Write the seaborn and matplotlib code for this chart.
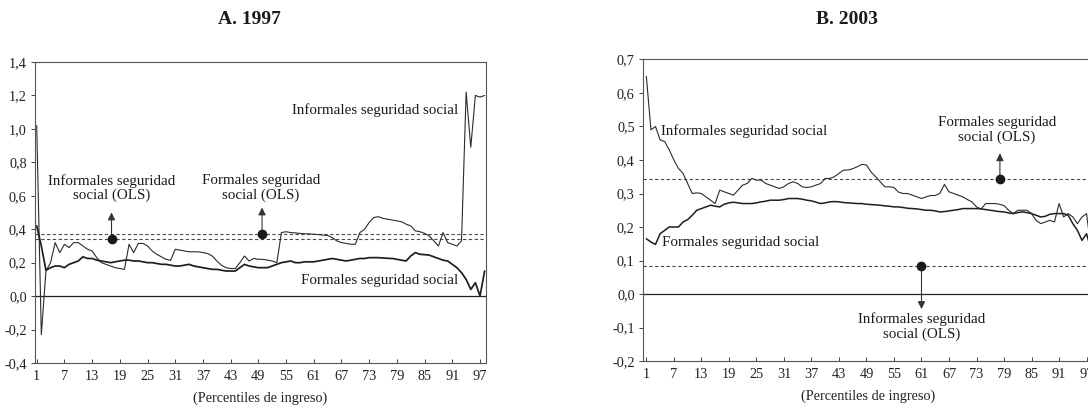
import numpy as np
import pandas as pd
import matplotlib
matplotlib.use("Agg")
import matplotlib.pyplot as plt
import seaborn as sns

# ---------------- data ----------------
percentiles = list(range(1, 99))

informales_1997 = [
    1.02, -0.23, 0.15, 0.20, 0.32, 0.26, 0.31, 0.29, 0.32, 0.32,
    0.30, 0.28, 0.27, 0.23, 0.20, 0.19, 0.18, 0.17, 0.165, 0.16,
    0.31, 0.26, 0.315, 0.315, 0.30, 0.27, 0.25, 0.235, 0.22, 0.214,
    0.28, 0.275, 0.27, 0.265, 0.265, 0.265, 0.26, 0.255, 0.24, 0.21,
    0.185, 0.17, 0.165, 0.165, 0.20, 0.24, 0.21, 0.225, 0.22, 0.22,
    0.215, 0.21, 0.20, 0.38, 0.385, 0.38, 0.378, 0.375, 0.373, 0.372,
    0.37, 0.368, 0.365, 0.363, 0.35, 0.33, 0.32, 0.315, 0.31, 0.31,
    0.38, 0.40, 0.44, 0.47, 0.475, 0.465, 0.46, 0.455, 0.45, 0.445,
    0.43, 0.42, 0.39, 0.385, 0.375, 0.36, 0.33, 0.30, 0.38, 0.32,
    0.31, 0.30, 0.33, 1.22, 0.89, 1.20, 1.19, 1.20,
]
formales_1997 = [
    0.42, 0.30, 0.155, 0.17, 0.18, 0.18, 0.17, 0.19, 0.20, 0.21,
    0.235, 0.225, 0.225, 0.215, 0.21, 0.205, 0.20, 0.205, 0.21, 0.215,
    0.215, 0.21, 0.21, 0.205, 0.20, 0.20, 0.195, 0.19, 0.19, 0.185,
    0.18, 0.18, 0.185, 0.19, 0.18, 0.175, 0.17, 0.165, 0.16, 0.16,
    0.155, 0.15, 0.15, 0.15, 0.17, 0.19, 0.18, 0.175, 0.17, 0.17,
    0.17, 0.18, 0.19, 0.20, 0.205, 0.21, 0.20, 0.20, 0.205, 0.205,
    0.205, 0.21, 0.215, 0.22, 0.225, 0.22, 0.215, 0.21, 0.215, 0.22,
    0.225, 0.225, 0.23, 0.23, 0.23, 0.228, 0.226, 0.225, 0.22, 0.215,
    0.21, 0.24, 0.26, 0.25, 0.248, 0.245, 0.235, 0.225, 0.215, 0.21,
    0.19, 0.17, 0.14, 0.10, 0.04, 0.08, 0.0, 0.15,
]
informales_2003 = [
    0.65, 0.49, 0.50, 0.46, 0.455, 0.43, 0.40, 0.375, 0.36, 0.33,
    0.30, 0.302, 0.30, 0.29, 0.28, 0.27, 0.31, 0.305, 0.30, 0.295,
    0.31, 0.325, 0.33, 0.345, 0.34, 0.34, 0.33, 0.325, 0.32, 0.315,
    0.32, 0.33, 0.335, 0.33, 0.32, 0.318, 0.32, 0.325, 0.33, 0.345,
    0.345, 0.35, 0.36, 0.37, 0.37, 0.374, 0.38, 0.387, 0.385, 0.364,
    0.35, 0.335, 0.32, 0.32, 0.318, 0.304, 0.30, 0.30, 0.295, 0.29,
    0.285, 0.29, 0.294, 0.294, 0.30, 0.327, 0.305, 0.30, 0.295, 0.29,
    0.282, 0.275, 0.26, 0.254, 0.27, 0.27, 0.27, 0.268, 0.264, 0.25,
    0.24, 0.25, 0.25, 0.25, 0.24, 0.22, 0.21, 0.215, 0.22, 0.215,
    0.27, 0.23, 0.24, 0.23, 0.21, 0.23, 0.24, 0.13,
]
formales_2003 = [
    0.165, 0.155, 0.148, 0.18, 0.19, 0.20, 0.20, 0.20, 0.215, 0.222,
    0.235, 0.25, 0.255, 0.26, 0.265, 0.262, 0.26, 0.268, 0.272, 0.274,
    0.272, 0.27, 0.27, 0.27, 0.272, 0.275, 0.277, 0.28, 0.28, 0.28,
    0.282, 0.285, 0.285, 0.285, 0.283, 0.28, 0.278, 0.274, 0.27, 0.272,
    0.275, 0.276, 0.275, 0.273, 0.272, 0.271, 0.27, 0.27, 0.268, 0.267,
    0.266, 0.265, 0.263, 0.262, 0.26, 0.26, 0.258, 0.256, 0.255, 0.254,
    0.252, 0.25, 0.25, 0.248, 0.245, 0.246, 0.248, 0.25, 0.252, 0.255,
    0.255, 0.255, 0.255, 0.254, 0.252, 0.25, 0.248, 0.246, 0.245, 0.242,
    0.24, 0.243, 0.245, 0.243, 0.24, 0.235, 0.23, 0.232, 0.238, 0.24,
    0.24, 0.24, 0.235, 0.21, 0.19, 0.16, 0.18, 0.13,
]

# OLS estimates (horizontal dashed lines)
ols_1997 = {"Informales": 0.34, "Formales": 0.372}
ols_2003 = {"Informales": 0.083, "Formales": 0.344}

xtick_values = list(range(1, 98, 6))
xtick_labels = [str(v) for v in xtick_values]
yticks_a = [-0.4, -0.2, 0.0, 0.2, 0.4, 0.6, 0.8, 1.0, 1.2, 1.4]
yticks_b = [-0.2, -0.1, 0.0, 0.1, 0.2, 0.3, 0.4, 0.5, 0.6, 0.7]
titles = ["A. 1997", "B. 2003"]
xlabel = "(Percentiles de ingreso)"

# ---------------- style ----------------
sns.set_style("ticks")
plt.rcParams["font.family"] = ["Liberation Serif", "DejaVu Serif"]
plt.rcParams["axes.linewidth"] = 0.8

fig = plt.figure(figsize=(10.88, 4.08), dpi=100)
W, H = 1088, 408


def axes_px(left, top, right, bottom):
    return fig.add_axes([left / W, (H - bottom) / H, (right - left) / W, (bottom - top) / H])


axA = axes_px(35, 62, 486, 363)
axB = axes_px(643, 59.5, 1093, 361)

dfA = pd.DataFrame({"p": percentiles, "inf": informales_1997, "for": formales_1997})
dfB = pd.DataFrame({"p": percentiles, "inf": informales_2003, "for": formales_2003})

LINE = "#2b2b2b"
DASH = "#4a4a4a"
TICK_FS = 10.3
TXT_FS = 10.8


def base(ax, df, yticks, ylim, xlim, ols, thick):
    ax.axhline(0, color="#222222", lw=0.9, zorder=1)
    for v in ols.values():
        ax.axhline(v, color=DASH, lw=0.8, ls=(0, (3, 2.2)), zorder=1)
    sns.lineplot(data=df, x="p", y="inf", ax=ax, color=LINE, lw=0.8, zorder=3)
    sns.lineplot(data=df, x="p", y="for", ax=ax, color="#1e1e1e", lw=thick, zorder=3)
    ax.set_xlim(*xlim)
    ax.set_ylim(*ylim)
    ax.set_xticks(xtick_values)
    ax.set_xticklabels(xtick_labels)
    ax.set_yticks(yticks)
    ax.set_yticklabels([f"{t:.1f}".replace(".", ",").replace("-0,0", "0,0") for t in yticks])
    ax.tick_params(axis="x", direction="in", length=3, width=0.6, labelsize=TICK_FS, pad=5, colors="#222222")
    ax.tick_params(axis="y", direction="out", length=3, width=0.6, labelsize=TICK_FS, pad=3, colors="#222222")
    ax.set_xlabel(xlabel, fontsize=TICK_FS, labelpad=6, color="#222222")
    ax.set_ylabel("")
    for s in ax.spines.values():
        s.set_visible(True)
        s.set_color("#555555")
        s.set_linewidth(0.8)


def ols_marker(ax, x, y, tip):
    ax.annotate("", xy=(x, tip), xytext=(x, y),
                arrowprops=dict(arrowstyle="-|>", color="#333333", lw=0.8,
                                mutation_scale=11, shrinkA=0, shrinkB=0), zorder=4)
    ax.plot([x], [y], marker="o", ms=6, color="#1a1a1a", zorder=5)


txt = dict(fontsize=TXT_FS, color="#1a1a1a")

# Panel A
base(axA, dfA, yticks_a, (-0.4, 1.4), (0.63, 98.3), ols_1997, 1.25)
ols_marker(axA, 17.2, ols_1997["Informales"], 0.50)
ols_marker(axA, 49.8, ols_1997["Formales"], 0.53)
axA.text(17.2, 0.645, "Informales seguridad\nsocial (OLS)", ha="center", va="center", linespacing=1.1, **txt)
axA.text(49.6, 0.645, "Formales seguridad\nsocial (OLS)", ha="center", va="center", linespacing=1.1, **txt)
axA.text(92.3, 1.11, "Informales seguridad social", ha="right", va="center", **txt)
axA.text(92.3, 0.095, "Formales seguridad social", ha="right", va="center", **txt)

# Panel B
base(axB, dfB, yticks_b, (-0.2, 0.7), (0.27, 98.4), ols_2003, 1.1)
ols_marker(axB, 78.1, ols_2003["Formales"], 0.42)
ols_marker(axB, 61.0, ols_2003["Informales"], -0.045)
axB.text(4.3, 0.487, "Informales seguridad social", ha="left", va="center", **txt)
axB.text(4.5, 0.155, "Formales seguridad social", ha="left", va="center", **txt)
axB.text(77.4, 0.49, "Formales seguridad\nsocial (OLS)", ha="center", va="center", linespacing=1.1, **txt)
axB.text(61.0, -0.097, "Informales seguridad\nsocial (OLS)", ha="center", va="center", linespacing=1.1, **txt)

fig.text(249 / W, 1 - 20 / H, titles[0], ha="center", va="center", fontsize=14, fontweight="bold", color="#1a1a1a")
fig.text(847 / W, 1 - 20 / H, titles[1], ha="center", va="center", fontsize=14, fontweight="bold", color="#1a1a1a")

fig.savefig("out.png", dpi=100, facecolor="white")
